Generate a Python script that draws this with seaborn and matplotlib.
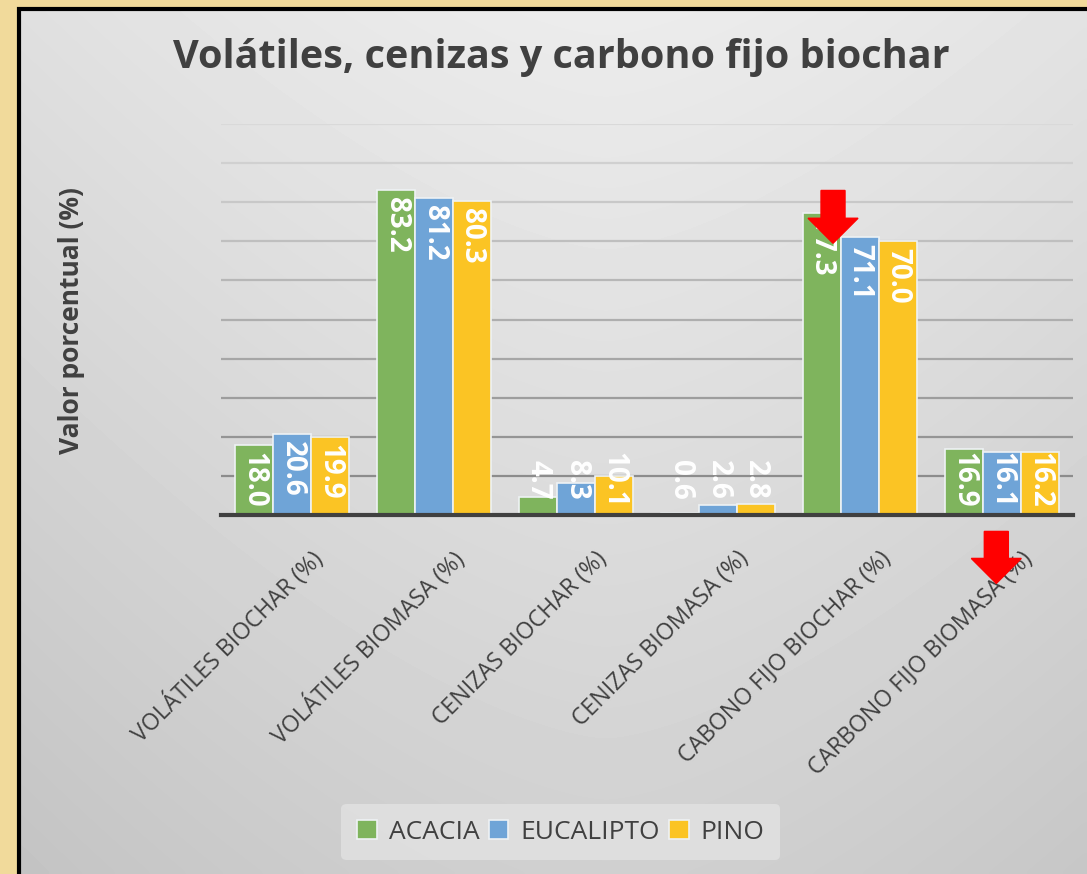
import numpy as np
import pandas as pd
import seaborn as sns
import matplotlib.pyplot as plt
from matplotlib.patches import Rectangle, FancyArrow
from matplotlib.transforms import ScaledTranslation, IdentityTransform

categories = ["VOLÁTILES BIOCHAR (%)", "VOLÁTILES BIOMASA (%)", "CENIZAS BIOCHAR (%)",
              "CENIZAS BIOMASA (%)", "CABONO FIJO BIOCHAR (%)", "CARBONO FIJO BIOMASA (%)"]
species = ["ACACIA", "EUCALIPTO", "PINO"]
acacia = [18.0, 83.2, 4.7, 0.6, 77.3, 16.9]
eucalipto = [20.6, 81.2, 8.3, 2.6, 71.1, 16.1]
pino = [19.9, 80.3, 10.1, 2.8, 70.0, 16.2]
colors = ["#7fb45d", "#6fa4d7", "#fbc424"]

df = pd.DataFrame({
    "categoria": categories * 3,
    "especie": [s for s in species for _ in categories],
    "valor": acacia + eucalipto + pino,
})

sns.set_style("white")
plt.rcParams["font.family"] = ["Open Sans", "DejaVu Sans"]

W, H = 1087, 874
fig = plt.figure(figsize=(W / 100, H / 100), dpi=100, facecolor="#f1da9b")

# grey gradient panel with black frame
bg = fig.add_axes([19 / W, 0, 1 - 19 / W, 1 - 9 / H], zorder=0)
yy, xx = np.mgrid[0:1:200j, 0:1:200j]
shade = 0.925 - 0.11 * yy - 0.06 * np.abs(xx - 0.55) ** 1.5 * 2
bg.imshow(shade, cmap="gray", vmin=0, vmax=1, aspect="auto",
          extent=[0, 1, 1, 0], interpolation="bicubic")
bg.set_xlim(0, 1)
bg.set_ylim(1, 0)
bg.axis("off")
fig.add_artist(Rectangle((19 / W, -0.01), 1.0, 1 - 9 / H + 0.01, transform=fig.transFigure,
                         fill=False, edgecolor="black", linewidth=3, zorder=1))

ax = fig.add_axes([221 / W, (H - 515) / H, 852 / W, 391 / H], zorder=2)
ax.patch.set_alpha(0)

# gridlines, lighter towards the top
for g in range(10, 101, 10):
    tone = 0.55 + 0.30 * (g - 10) / 90
    ax.axhline(g, color=str(tone), linewidth=1.6, zorder=0)

sns.barplot(data=df, x="categoria", y="valor", hue="especie", hue_order=species,
            order=categories, palette=colors, width=0.8, edgecolor="#eef2f4",
            linewidth=1.2, saturation=1, ax=ax, zorder=2, legend=True)

ax.set_ylim(0, 100)
ax.set_xlim(-0.5, 5.5)
ax.set_yticks([])
ax.set_xlabel("")
ax.set_ylabel("")
for side in ["top", "right", "left"]:
    ax.spines[side].set_visible(False)
ax.spines["bottom"].set_color("#404040")
ax.spines["bottom"].set_linewidth(3)
ax.spines["bottom"].set_zorder(5)
ax.tick_params(axis="x", length=0, pad=0)
ax.set_xticks(range(len(categories)))
ax.set_xticklabels(categories, rotation=45, ha="right", va="center",
                   rotation_mode="anchor", fontsize=16.6, color="#404040")
off = ScaledTranslation(27 / 100, -40 / 100, fig.dpi_scale_trans)
for lbl in ax.get_xticklabels():
    lbl.set_transform(lbl.get_transform() + off)

# value labels, inside end, pushed up for short bars
for cont, vals in zip(ax.containers, [acacia, eucalipto, pino]):
    for bar, v in zip(cont, vals):
        s = f"{v:.1f}"
        cx = bar.get_x() + bar.get_width() / 2
        half = 1.75 * len(s)
        if v - 1.8 - 2 * half >= 8.9 - half:
            ax.text(cx, v - 1.8, s, rotation=270, ha="center", va="top",
                    color="white", fontsize=20, fontweight="bold", zorder=6)
        else:
            ax.text(cx, 8.9, s, rotation=270, ha="center", va="center",
                    color="white", fontsize=20, fontweight="bold", zorder=6)

fig.text(0.516, 0.934, "Volátiles, cenizas y carbono fijo biochar", ha="center",
         va="center", fontsize=28.5, fontweight="bold", color="#404040")
fig.text(0.066, 0.633, "Valor porcentual (%)", rotation=90, ha="center", va="center",
         fontsize=19, fontweight="bold", color="#404040")

handles, labels = ax.get_legend_handles_labels()
ax.legend_.remove()
leg = fig.legend(handles, labels, loc="center", bbox_to_anchor=(0.516, 0.048), ncol=3,
                 frameon=True, fontsize=19, handlelength=0.75, handleheight=0.75,
                 handletextpad=0.45, columnspacing=0.35, borderpad=0.6)
leg.get_frame().set_facecolor("#e2e2e2")
leg.get_frame().set_edgecolor("none")
for t in leg.get_texts():
    t.set_color("#404040")

# red arrows
fig.canvas.draw()
arrows = [(3.81, 83.0, 69.5), (4.96, -4.2, -17.5)]
for x, y0, y1 in arrows:
    px, py0 = ax.transData.transform((x, y0))
    _, py1 = ax.transData.transform((x, y1))
    fig.add_artist(FancyArrow(px, py0, 0, py1 - py0, width=24, head_width=50,
                              head_length=25, length_includes_head=True,
                              color="#ff0000", transform=IdentityTransform(), zorder=10))

fig.savefig("out.png", dpi=100, facecolor=fig.get_facecolor())
